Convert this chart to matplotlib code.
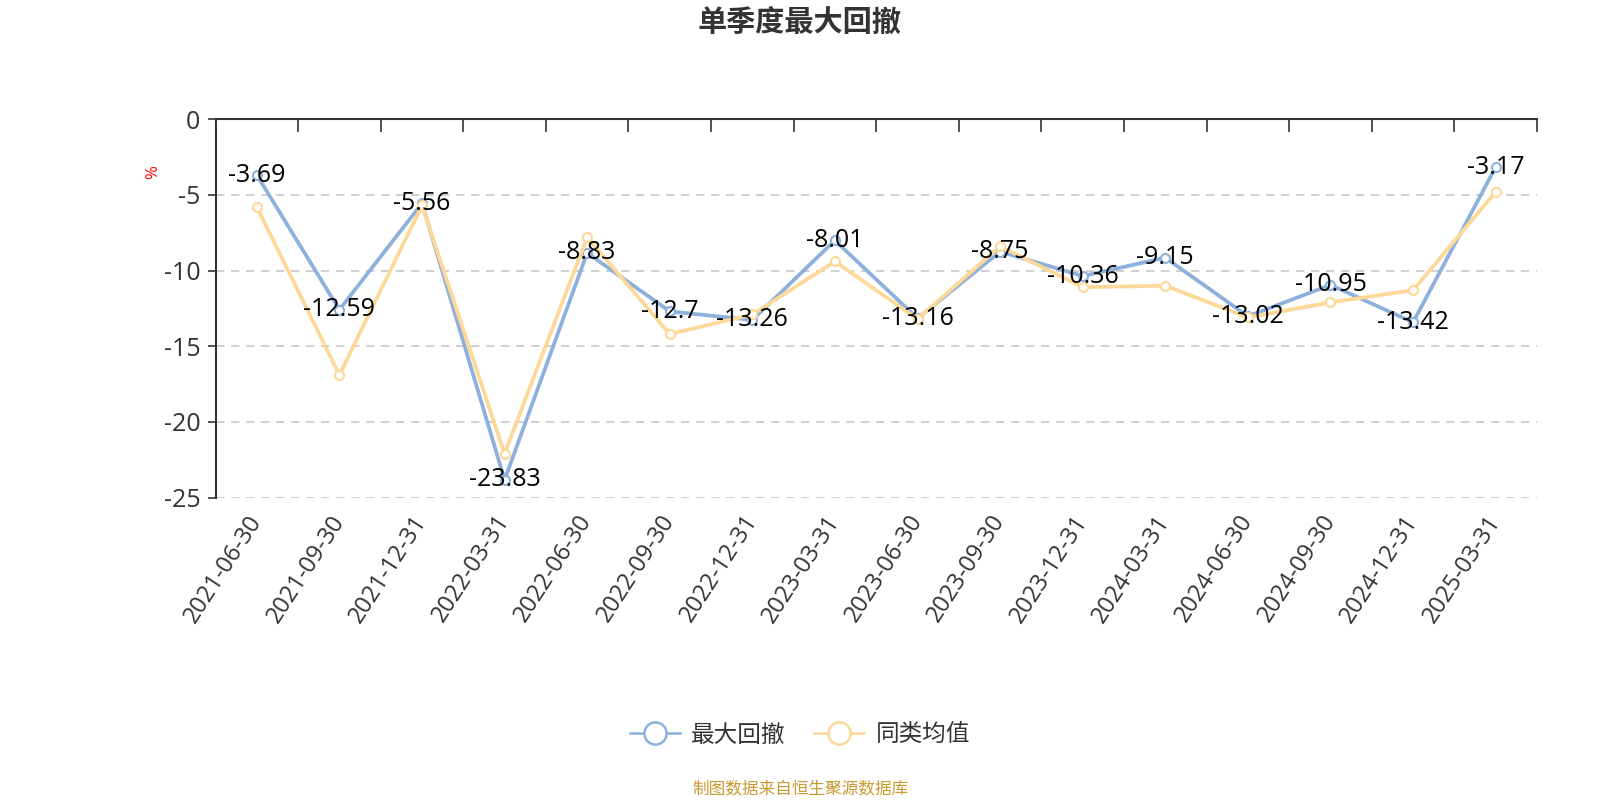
import matplotlib.pyplot as plt
import numpy as np
from matplotlib.lines import Line2D

plt.rcParams['font.family'] = ['Open Sans', 'Noto Sans CJK SC', 'DejaVu Sans']

# 数据
dates = ['2021-06-30', '2021-09-30', '2021-12-31', '2022-03-31', '2022-06-30',
         '2022-09-30', '2022-12-31', '2023-03-31', '2023-06-30', '2023-09-30',
         '2023-12-31', '2024-03-31', '2024-06-30', '2024-09-30', '2024-12-31',
         '2025-03-31']
max_dd = [-3.69, -12.59, -5.56, -23.83, -8.83, -12.7, -13.26, -8.01, -13.16,
          -8.75, -10.36, -9.15, -13.02, -10.95, -13.42, -3.17]
peer_avg = [-5.8, -16.9, -5.7, -22.1, -7.8, -14.2, -12.9, -9.4, -13.2,
            -8.4, -11.1, -11.0, -13.1, -12.1, -11.3, -4.8]
yticks = [0, -5, -10, -15, -20, -25]

blue = '#8db0dc'
yellow = '#fdd898'
text_c = '#333333'
cjk = ['Noto Sans CJK SC', 'DejaVu Sans']

fig = plt.figure(figsize=(16, 8), dpi=100)
ax = fig.add_axes([0.1347, 0.378, 0.9606 - 0.1347, 0.851 - 0.378])

x = np.arange(len(dates))
ax.plot(x, max_dd, color=blue, lw=2.7, marker='o', ms=6.5, mfc='white',
        mec=blue, mew=1.5, zorder=3)
ax.plot(x, peer_avg, color=yellow, lw=2.7, marker='o', ms=6.5, mfc='white',
        mec=yellow, mew=1.5, zorder=4)

for xi, v in zip(x, max_dd):
    ax.text(xi, v, f'{v:g}', ha='center', va='center', fontsize=18,
            color='black', zorder=5)

ax.set_xlim(-0.5, len(dates) - 0.5)
ax.set_ylim(-25, 0)

# 网格
for yv in yticks[1:]:
    ax.axhline(yv, color='#c8c8c8', lw=1.2, ls=(0, (5, 4)), zorder=1)

# 坐标轴
for s in ['right', 'bottom']:
    ax.spines[s].set_visible(False)
ax.spines['top'].set_color(text_c)
ax.spines['left'].set_color(text_c)
ax.spines['top'].set_linewidth(1.5)
ax.spines['left'].set_linewidth(1.5)

ax.set_yticks(yticks)
ax.set_yticklabels([str(v) for v in yticks], fontsize=18, color=text_c)
ax.tick_params(axis='y', direction='out', length=6, width=1.2, color=text_c, pad=5)

ax.set_xticks(x)
ax.set_xticklabels(dates, rotation=57, ha='right', va='center',
                   rotation_mode='anchor', fontsize=17, color=text_c)
ax.tick_params(axis='x', which='major', length=0, pad=14, bottom=True, top=False)
ax.set_xticks(np.arange(-0.5, len(dates) + 0.5, 1), minor=True)
ax.tick_params(axis='x', which='minor', top=True, bottom=False, direction='in',
               length=9, width=1.2, color=text_c)

ax.text(-0.047, 0.86, '%', transform=ax.transAxes, rotation=90, color='red',
        fontsize=12, ha='center', va='center')

fig.text(0.5, 0.972, '单季度最大回撤', ha='center', va='center', fontsize=21,
         fontweight='bold', color=text_c, family=cjk)

handles = [Line2D([0], [0], color=blue, lw=1.8, marker='o', ms=16, mfc='white',
                  mec=blue, mew=1.8),
           Line2D([0], [0], color=yellow, lw=1.8, marker='o', ms=16, mfc='white',
                  mec=yellow, mew=1.8)]
fig.legend(handles, ['最大回撤', '同类均值'], loc='center', ncol=2,
           bbox_to_anchor=(0.5, 0.081), frameon=False,
           prop={'family': cjk, 'size': 17},
           handlelength=2.1, columnspacing=1.2, handletextpad=0.5,
           labelcolor=text_c)

fig.text(0.5, 0.013, '制图数据来自恒生聚源数据库', ha='center', va='center',
         fontsize=12, color='#c9992f', family=cjk)

plt.savefig('out.png', dpi=100)
